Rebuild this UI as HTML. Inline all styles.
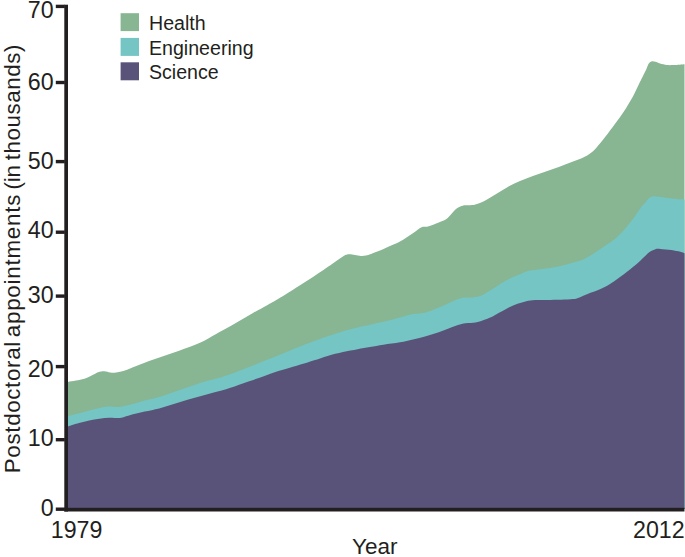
<!DOCTYPE html>
<html><head><meta charset="utf-8"><title>Postdoctoral appointments</title>
<style>
html,body{margin:0;padding:0;background:#fff;}
body{width:685px;height:557px;overflow:hidden;}
svg{display:block;}
text{font-family:"Liberation Sans",sans-serif;}
</style></head><body>
<svg width="685" height="557" viewBox="0 0 685 557">
<rect width="685" height="557" fill="#ffffff"/>
<path d="M66.00,382.00 C66.33,381.98 66.33,382.13 68.00,381.90 C69.67,381.67 73.27,381.12 76.00,380.60 C78.73,380.08 81.63,379.75 84.40,378.80 C87.17,377.85 90.33,376.00 92.60,374.90 C94.87,373.80 96.52,372.78 98.00,372.20 C99.48,371.62 100.17,371.50 101.50,371.40 C102.83,371.30 104.25,371.37 106.00,371.60 C107.75,371.83 109.45,372.80 112.00,372.80 C114.55,372.80 117.80,372.53 121.30,371.60 C124.80,370.67 129.32,368.60 133.00,367.20 C136.68,365.80 139.73,364.57 143.40,363.20 C147.07,361.83 151.12,360.37 155.00,359.00 C158.88,357.63 162.80,356.33 166.70,355.00 C170.60,353.67 174.50,352.37 178.40,351.00 C182.30,349.63 186.50,348.17 190.10,346.80 C193.70,345.43 196.82,344.28 200.00,342.80 C203.18,341.32 205.23,340.07 209.20,337.90 C213.17,335.73 218.93,332.52 223.80,329.80 C228.67,327.08 233.53,324.40 238.40,321.60 C243.27,318.80 248.13,315.77 253.00,313.00 C257.87,310.23 263.10,307.53 267.60,305.00 C272.10,302.47 274.33,301.27 280.00,297.80 C285.67,294.33 294.42,288.80 301.60,284.20 C308.78,279.60 316.65,274.52 323.10,270.20 C329.55,265.88 336.73,260.77 340.30,258.30 C343.87,255.83 343.37,256.05 344.50,255.40 C345.63,254.75 346.25,254.60 347.10,254.40 C347.95,254.20 348.28,254.12 349.60,254.20 C350.92,254.28 353.12,254.62 355.00,254.90 C356.88,255.18 359.07,255.80 360.90,255.90 C362.73,256.00 364.30,255.83 366.00,255.50 C367.70,255.17 368.55,254.82 371.10,253.90 C373.65,252.98 378.15,251.32 381.30,250.00 C384.45,248.68 386.88,247.40 390.00,246.00 C393.12,244.60 396.18,243.72 400.00,241.60 C403.82,239.48 409.30,235.70 412.90,233.30 C416.50,230.90 419.08,228.35 421.60,227.20 C424.12,226.05 425.13,227.18 428.00,226.40 C430.87,225.62 435.57,223.87 438.80,222.50 C442.03,221.13 444.53,220.43 447.40,218.20 C450.27,215.97 453.48,211.18 456.00,209.10 C458.52,207.02 460.33,206.33 462.50,205.70 C464.67,205.07 466.85,205.48 469.00,205.30 C471.15,205.12 472.53,205.50 475.40,204.60 C478.27,203.70 482.60,201.77 486.20,199.90 C489.80,198.03 493.40,195.57 497.00,193.40 C500.60,191.23 503.97,188.97 507.80,186.90 C511.63,184.83 515.82,182.82 520.00,181.00 C524.18,179.18 528.58,177.60 532.90,176.00 C537.22,174.40 541.58,172.90 545.90,171.40 C550.22,169.90 554.50,168.55 558.80,167.00 C563.10,165.45 567.38,163.82 571.70,162.10 C576.02,160.38 581.10,158.57 584.70,156.70 C588.30,154.83 590.80,153.05 593.30,150.90 C595.80,148.75 597.60,146.28 599.70,143.80 C601.80,141.32 603.37,139.32 605.90,136.00 C608.43,132.68 611.90,128.00 614.90,123.90 C617.90,119.80 620.92,115.93 623.90,111.40 C626.88,106.87 630.28,101.27 632.80,96.70 C635.32,92.13 637.38,87.28 639.00,84.00 C640.62,80.72 641.33,79.32 642.50,77.00 C643.67,74.68 645.05,72.17 646.00,70.10 C646.95,68.03 647.53,65.92 648.20,64.60 C648.87,63.28 649.28,62.77 650.00,62.20 C650.72,61.63 651.58,61.27 652.50,61.20 C653.42,61.13 654.25,61.40 655.50,61.80 C656.75,62.20 658.08,63.05 660.00,63.60 C661.92,64.15 664.67,64.85 667.00,65.10 C669.33,65.35 671.08,65.23 674.00,65.10 C676.92,64.97 682.75,64.43 684.50,64.30 L684.50,509 L66.00,509 Z" fill="#88b592"/>
<path d="M66.00,416.40 C66.33,416.37 65.83,416.72 68.00,416.20 C70.17,415.68 75.47,414.27 79.00,413.30 C82.53,412.33 85.80,411.30 89.20,410.40 C92.60,409.50 96.23,408.57 99.40,407.90 C102.57,407.23 105.03,406.55 108.20,406.40 C111.37,406.25 115.00,407.23 118.40,407.00 C121.80,406.77 125.20,405.78 128.60,405.00 C132.00,404.22 135.40,403.20 138.80,402.30 C142.20,401.40 145.60,400.48 149.00,399.60 C152.40,398.72 155.07,398.27 159.20,397.00 C163.33,395.73 168.93,393.67 173.80,392.00 C178.67,390.33 183.53,388.67 188.40,387.00 C193.27,385.33 198.13,383.45 203.00,382.00 C207.87,380.55 213.10,379.60 217.60,378.30 C222.10,377.00 224.73,376.10 230.00,374.20 C235.27,372.30 243.57,369.10 249.20,366.90 C254.83,364.70 258.93,362.95 263.80,361.00 C268.67,359.05 273.53,357.15 278.40,355.20 C283.27,353.25 288.13,351.23 293.00,349.30 C297.87,347.37 303.10,345.32 307.60,343.60 C312.10,341.88 316.53,340.25 320.00,339.00 C323.47,337.75 324.57,337.40 328.40,336.10 C332.23,334.80 338.13,332.65 343.00,331.20 C347.87,329.75 353.10,328.47 357.60,327.40 C362.10,326.33 365.70,325.73 370.00,324.80 C374.30,323.87 378.40,323.02 383.40,321.80 C388.40,320.58 395.08,318.80 400.00,317.50 C404.92,316.20 408.58,314.85 412.90,314.00 C417.22,313.15 421.58,313.47 425.90,312.40 C430.22,311.33 434.50,309.38 438.80,307.60 C443.10,305.82 447.75,303.33 451.70,301.70 C455.65,300.07 458.90,298.52 462.50,297.80 C466.10,297.08 470.07,297.82 473.30,297.40 C476.53,296.98 478.67,296.73 481.90,295.30 C485.13,293.87 489.12,291.03 492.70,288.80 C496.28,286.57 500.18,283.77 503.40,281.90 C506.62,280.03 509.23,278.87 512.00,277.60 C514.77,276.33 517.62,275.33 520.00,274.30 C522.38,273.27 523.30,272.20 526.30,271.40 C529.30,270.60 534.12,270.07 538.00,269.50 C541.88,268.93 545.72,268.62 549.60,268.00 C553.48,267.38 557.40,266.70 561.30,265.80 C565.20,264.90 569.10,263.78 573.00,262.60 C576.90,261.42 580.97,260.43 584.70,258.70 C588.43,256.97 591.82,254.50 595.40,252.20 C598.98,249.90 603.02,247.05 606.20,244.90 C609.38,242.75 611.62,241.72 614.50,239.30 C617.38,236.88 620.50,233.68 623.50,230.40 C626.50,227.12 629.82,223.13 632.50,219.60 C635.18,216.07 637.37,212.18 639.60,209.20 C641.83,206.22 644.25,203.60 645.90,201.70 C647.55,199.80 648.30,198.70 649.50,197.80 C650.70,196.90 651.53,196.48 653.10,196.30 C654.67,196.12 656.45,196.42 658.90,196.70 C661.35,196.98 664.82,197.62 667.80,198.00 C670.78,198.38 674.02,198.77 676.80,199.00 C679.58,199.23 683.22,199.33 684.50,199.40 L684.50,509 L66.00,509 Z" fill="#74c5c3"/>
<path d="M66.00,426.70 C66.33,426.65 65.83,427.00 68.00,426.40 C70.17,425.80 75.47,424.07 79.00,423.10 C82.53,422.13 85.80,421.33 89.20,420.60 C92.60,419.87 96.00,419.18 99.40,418.70 C102.80,418.22 106.43,417.80 109.60,417.70 C112.77,417.60 115.97,418.23 118.40,418.10 C120.83,417.97 121.77,417.53 124.20,416.90 C126.63,416.27 129.58,415.20 133.00,414.30 C136.42,413.40 140.33,412.48 144.70,411.50 C149.07,410.52 154.35,409.65 159.20,408.40 C164.05,407.15 168.93,405.47 173.80,404.00 C178.67,402.53 183.53,401.02 188.40,399.60 C193.27,398.18 198.13,396.83 203.00,395.50 C207.87,394.17 212.33,393.12 217.60,391.60 C222.87,390.08 229.33,388.12 234.60,386.40 C239.87,384.68 244.33,383.00 249.20,381.30 C254.07,379.60 258.93,377.90 263.80,376.20 C268.67,374.50 273.53,372.68 278.40,371.10 C283.27,369.52 288.13,368.15 293.00,366.70 C297.87,365.25 303.10,363.77 307.60,362.40 C312.10,361.03 316.53,359.60 320.00,358.50 C323.47,357.40 324.57,356.87 328.40,355.80 C332.23,354.73 338.13,353.20 343.00,352.10 C347.87,351.00 353.10,350.05 357.60,349.20 C362.10,348.35 365.70,347.75 370.00,347.00 C374.30,346.25 378.40,345.48 383.40,344.70 C388.40,343.92 395.08,343.18 400.00,342.30 C404.92,341.42 408.58,340.42 412.90,339.40 C417.22,338.38 421.58,337.38 425.90,336.20 C430.22,335.02 434.50,333.80 438.80,332.30 C443.10,330.80 447.75,328.63 451.70,327.20 C455.65,325.77 458.90,324.43 462.50,323.70 C466.10,322.97 470.07,323.30 473.30,322.80 C476.53,322.30 478.67,321.77 481.90,320.70 C485.13,319.63 489.68,317.80 492.70,316.40 C495.72,315.00 497.32,313.80 500.00,312.30 C502.68,310.80 505.88,308.82 508.80,307.40 C511.72,305.98 514.58,304.83 517.50,303.80 C520.42,302.77 523.38,301.82 526.30,301.20 C529.22,300.58 531.60,300.32 535.00,300.10 C538.40,299.88 542.32,299.97 546.70,299.90 C551.08,299.83 556.92,299.83 561.30,299.70 C565.68,299.57 570.08,299.43 573.00,299.10 C575.92,298.77 576.37,298.57 578.80,297.70 C581.23,296.83 584.07,295.30 587.60,293.90 C591.13,292.50 596.27,290.95 600.00,289.30 C603.73,287.65 606.83,285.93 610.00,284.00 C613.17,282.07 616.00,279.87 619.00,277.70 C622.00,275.53 625.00,273.32 628.00,271.00 C631.00,268.68 634.32,266.12 637.00,263.80 C639.68,261.48 642.02,259.05 644.10,257.10 C646.18,255.15 647.70,253.38 649.50,252.10 C651.30,250.82 653.10,249.93 654.90,249.40 C656.70,248.87 657.55,248.80 660.30,248.90 C663.05,249.00 668.05,249.52 671.40,250.00 C674.75,250.48 678.22,251.27 680.40,251.80 C682.58,252.33 683.82,252.97 684.50,253.20 L684.50,509 L66.00,509 Z" fill="#5a5379"/>
<rect x="64.3" y="4.7" width="3.7" height="506.8" fill="#231f20"/>
<rect x="64.3" y="507.8" width="620.15" height="3.7" fill="#231f20"/>
<rect x="55.8" y="4.7" width="9" height="3.4" fill="#231f20"/>
<text transform="translate(53.6,17.8) scale(1.005,1)" text-anchor="end" font-size="23.1" fill="#231f20">70</text>
<rect x="55.8" y="80.8" width="9" height="3.4" fill="#231f20"/>
<text transform="translate(53.6,89.6) scale(1.005,1)" text-anchor="end" font-size="23.1" fill="#231f20">60</text>
<rect x="55.8" y="159.9" width="9" height="3.4" fill="#231f20"/>
<text transform="translate(53.6,169.1) scale(1.005,1)" text-anchor="end" font-size="23.1" fill="#231f20">50</text>
<rect x="55.8" y="230.5" width="9" height="3.4" fill="#231f20"/>
<text transform="translate(53.6,237.9) scale(1.005,1)" text-anchor="end" font-size="23.1" fill="#231f20">40</text>
<rect x="55.8" y="294.4" width="9" height="3.4" fill="#231f20"/>
<text transform="translate(53.6,302.9) scale(1.005,1)" text-anchor="end" font-size="23.1" fill="#231f20">30</text>
<rect x="55.8" y="364.9" width="9" height="3.4" fill="#231f20"/>
<text transform="translate(53.6,376.8) scale(1.005,1)" text-anchor="end" font-size="23.1" fill="#231f20">20</text>
<rect x="55.8" y="438.0" width="9" height="3.4" fill="#231f20"/>
<text transform="translate(53.6,446.4) scale(1.005,1)" text-anchor="end" font-size="23.1" fill="#231f20">10</text>
<rect x="55.8" y="507.5" width="9" height="3.4" fill="#231f20"/>
<text transform="translate(53.6,516.2) scale(1.005,1)" text-anchor="end" font-size="23.1" fill="#231f20">0</text>
<rect x="120.6" y="13.2" width="18.4" height="17.9" fill="#88b592"/>
<text x="149" y="29.5" font-size="19.6" fill="#231f20">Health</text>
<rect x="120.6" y="37.9" width="18.4" height="18.0" fill="#74c5c3"/>
<text x="149" y="54.6" font-size="19.6" fill="#231f20">Engineering</text>
<rect x="120.6" y="62.3" width="18.4" height="18.0" fill="#5a5379"/>
<text x="149" y="78.9" font-size="19.6" fill="#231f20">Science</text>
<text transform="translate(50.8,538.3) scale(1.005,1)" font-size="23.1" fill="#231f20">1979</text>
<text transform="translate(684.6,538.4) scale(1.005,1)" text-anchor="end" font-size="23.1" fill="#231f20">2012</text>
<text x="352" y="554.2" font-size="22.5" fill="#231f20">Year</text>
<text transform="translate(20.4,473.2) rotate(-90)" font-size="22.3" letter-spacing="0.68" fill="#231f20">Postdoctoral</text>
<text transform="translate(20.4,337.2) rotate(-90)" font-size="22.3" letter-spacing="0.79" fill="#231f20">appointments</text>
<text transform="translate(20.4,189.4) rotate(-90)" font-size="22.3" letter-spacing="-0.25" fill="#231f20">(in</text>
<text transform="translate(20.4,160.3) rotate(-90)" font-size="22.3" letter-spacing="0.60" fill="#231f20">thousands)</text>
</svg>
</body></html>
